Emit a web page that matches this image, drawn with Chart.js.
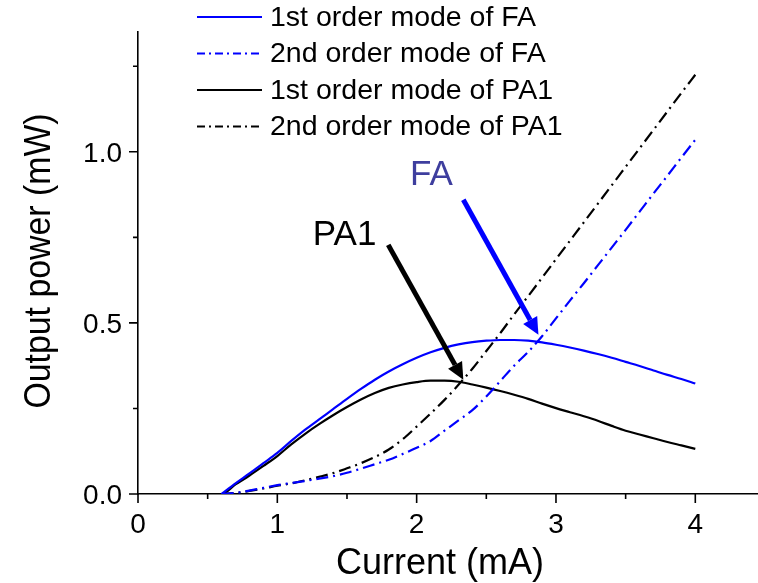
<!DOCTYPE html>
<html>
<head>
<meta charset="utf-8">
<script src="https://cdn.jsdelivr.net/npm/chart.js@4.4.1/dist/chart.umd.min.js"></script>
<style>
  html, body { margin: 0; padding: 0; background: #fff; }
  canvas { display: block; }
</style>
</head>
<body>
<canvas id="chart" width="758" height="583"></canvas>
<script>
// injection current (mA)
const current = [0.5, 0.6, 0.7, 0.8, 0.9, 1.0, 1.1, 1.2, 1.3, 1.4, 1.5, 1.6, 1.7, 1.8, 1.9, 2.0, 2.1, 2.2,
                 2.3, 2.4, 2.5, 2.6, 2.7, 2.8, 2.9, 3.0, 3.1, 3.2, 3.3, 3.4, 3.5, 3.6, 3.7, 3.8, 3.9, 4.0];

// output power (mW)
const fa1st = [null, 0, 0.031, 0.06, 0.09, 0.12, 0.155, 0.188, 0.218, 0.248, 0.278, 0.307, 0.334, 0.358, 0.379, 0.398,
               0.414, 0.427, 0.437, 0.444, 0.448, 0.45, 0.45, 0.448, 0.443, 0.436, 0.428, 0.419, 0.409, 0.398,
               0.386, 0.374, 0.361, 0.348, 0.336, 0.323];
const fa2nd = [null, 0, 0.003, 0.01, 0.018, 0.026, 0.032, 0.038, 0.045, 0.052, 0.062, 0.074, 0.087, 0.1, 0.117, 0.135,
               0.155, 0.185, 0.215, 0.245, 0.285, 0.33, 0.375, 0.415, 0.461, 0.513, 0.565, 0.616, 0.668, 0.72,
               0.772, 0.825, 0.878, 0.93, 0.983, 1.035];
const pa1st = [0, 0, 0.028, 0.054, 0.082, 0.111, 0.145, 0.176, 0.204, 0.23, 0.254, 0.276, 0.295, 0.31, 0.32, 0.327,
               0.331, 0.331, 0.328, 0.32, 0.311, 0.301, 0.29, 0.278, 0.264, 0.251, 0.239, 0.227, 0.214, 0.199,
               0.185, 0.174, 0.163, 0.152, 0.142, 0.132];
const pa2nd = [null, 0, 0.003, 0.009, 0.016, 0.024, 0.031, 0.04, 0.05, 0.061, 0.075, 0.09, 0.108, 0.13, 0.16, 0.197,
               0.235, 0.275, 0.319, 0.366, 0.418, 0.47, 0.525, 0.578, 0.632, 0.686, 0.74, 0.794, 0.848, 0.902,
               0.956, 1.01, 1.064, 1.118, 1.172, 1.225];

const seriesNames = ['1st order mode of FA', '2nd order mode of FA', '1st order mode of PA1', '2nd order mode of PA1'];

const xMajor = [0, 1, 2, 3, 4];
const xMinor = [0.5, 1.5, 2.5, 3.5];
const yMajor = [0.0, 0.5, 1.0];
const yMinor = [0.25, 0.75, 1.25];

// callouts: label anchor, arrow tail, arrow tip (data units)
const callouts = [
  { text: 'PA1', color: '#000000', textAt: [1.255, 0.728], from: [1.796, 0.728], to: [2.335, 0.334] },
  { text: 'FA',  color: '#0000ff', textColor: '#3e3e9e', textAt: [1.952, 0.904], from: [2.335, 0.86], to: [2.874, 0.465] }
];

const FONT = '"Liberation Sans", Arial, sans-serif';
const DASHDOT = [12, 5, 2, 5];

const pts = ys => current.map((x, i) => ({ x: x, y: ys[i] }));

function line(label, ys, color, dash) {
  return {
    label: label,
    data: pts(ys),
    borderColor: color,
    borderWidth: 2.2,
    borderDash: dash,
    pointRadius: 0,
    fill: false,
    cubicInterpolationMode: 'monotone',
    spanGaps: false
  };
}

const decor = {
  id: 'decor',
  afterDraw(chart) {
    const ctx = chart.ctx;
    const xs = chart.scales.x, ys = chart.scales.y;
    const area = chart.chartArea;
    ctx.save();

    // tick marks, pointing outward
    ctx.strokeStyle = '#000';
    ctx.lineWidth = 1.6;
    ctx.setLineDash([]);
    ctx.beginPath();
    xMajor.forEach(v => { const p = xs.getPixelForValue(v); ctx.moveTo(p, area.bottom); ctx.lineTo(p, area.bottom + 9); });
    xMinor.forEach(v => { const p = xs.getPixelForValue(v); ctx.moveTo(p, area.bottom); ctx.lineTo(p, area.bottom + 5); });
    yMajor.forEach(v => { const p = ys.getPixelForValue(v); ctx.moveTo(area.left, p); ctx.lineTo(area.left - 9, p); });
    yMinor.forEach(v => { const p = ys.getPixelForValue(v); ctx.moveTo(area.left, p); ctx.lineTo(area.left - 5, p); });
    ctx.stroke();

    // tick labels
    ctx.fillStyle = '#000';
    ctx.font = '28px ' + FONT;
    ctx.textBaseline = 'alphabetic';
    ctx.textAlign = 'center';
    xMajor.forEach(v => ctx.fillText(String(v), xs.getPixelForValue(v), area.bottom + 39));
    ctx.textAlign = 'right';
    yMajor.forEach(v => ctx.fillText(v.toFixed(1), area.left - 16, ys.getPixelForValue(v) + 10));

    // axis titles
    ctx.font = '36px ' + FONT;
    ctx.textAlign = 'center';
    ctx.fillText('Current (mA)', 440, 574);
    ctx.save();
    ctx.translate(50, 261);
    ctx.rotate(-Math.PI / 2);
    ctx.scale(0.94, 1);
    ctx.fillText('Output power (mW)', 0, 0);
    ctx.restore();

    // legend
    ctx.font = '28.5px ' + FONT;
    ctx.textAlign = 'left';
    ctx.textBaseline = 'middle';
    chart.data.datasets.forEach((ds, i) => {
      const y = 17 + i * 36.5;
      ctx.strokeStyle = ds.borderColor;
      ctx.lineWidth = 2.2;
      ctx.setLineDash(ds.borderDash && ds.borderDash.length ? [8, 4, 2, 4] : []);
      ctx.beginPath();
      ctx.moveTo(197, y);
      ctx.lineTo(262, y);
      ctx.stroke();
      ctx.fillStyle = '#000';
      ctx.fillText(ds.label, 270, y + 1);
    });
    ctx.setLineDash([]);

    // callout labels and arrows
    callouts.forEach(c => {
      ctx.font = '35px ' + FONT;
      ctx.textAlign = 'left';
      ctx.textBaseline = 'alphabetic';
      ctx.fillStyle = c.textColor || c.color;
      ctx.fillText(c.text, xs.getPixelForValue(c.textAt[0]), ys.getPixelForValue(c.textAt[1]));

      const x0 = xs.getPixelForValue(c.from[0]), y0 = ys.getPixelForValue(c.from[1]);
      const x1 = xs.getPixelForValue(c.to[0]), y1 = ys.getPixelForValue(c.to[1]);
      const ang = Math.atan2(y1 - y0, x1 - x0);
      const head = 17, half = 8;
      const bx = x1 - head * Math.cos(ang), by = y1 - head * Math.sin(ang);
      ctx.strokeStyle = c.color;
      ctx.fillStyle = c.color;
      ctx.lineWidth = 5;
      ctx.beginPath();
      ctx.moveTo(x0, y0);
      ctx.lineTo(bx, by);
      ctx.stroke();
      ctx.beginPath();
      ctx.moveTo(x1, y1);
      ctx.lineTo(bx + half * Math.sin(ang), by - half * Math.cos(ang));
      ctx.lineTo(bx - half * Math.sin(ang), by + half * Math.cos(ang));
      ctx.closePath();
      ctx.fill();
    });

    ctx.restore();
  }
};

new Chart(document.getElementById('chart'), {
  type: 'line',
  data: {
    datasets: [
      line(seriesNames[0], fa1st, '#0000ff', []),
      line(seriesNames[1], fa2nd, '#0000ff', DASHDOT),
      line(seriesNames[2], pa1st, '#000000', []),
      line(seriesNames[3], pa2nd, '#000000', DASHDOT)
    ]
  },
  options: {
    responsive: false,
    animation: false,
    events: [],
    layout: { padding: { left: 138, top: 32, right: 0, bottom: 89 } },
    plugins: { legend: { display: false }, title: { display: false }, tooltip: { enabled: false } },
    scales: {
      x: {
        type: 'linear', min: 0, max: 4.45,
        grid: { display: true, drawOnChartArea: false, drawTicks: false },
        border: { display: true, color: '#000', width: 1.6 },
        ticks: { display: false }
      },
      y: {
        type: 'linear', min: 0, max: 1.35,
        grid: { display: true, drawOnChartArea: false, drawTicks: false },
        border: { display: true, color: '#000', width: 1.6 },
        ticks: { display: false }
      }
    }
  },
  plugins: [decor]
});
</script>
</body>
</html>
